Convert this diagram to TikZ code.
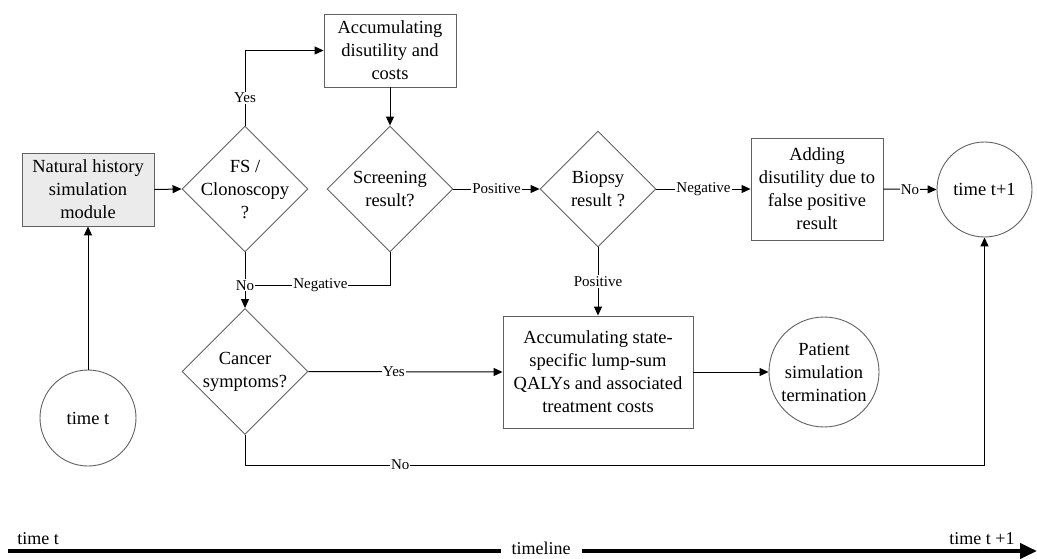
\documentclass[tikz,border=0pt]{standalone}
\usepackage{fontspec}
\setmainfont{Liberation Serif}
\usetikzlibrary{shapes.geometric,arrows.meta}

\tikzset{
  base/.style={draw=black!62, line width=0.9pt, inner sep=0pt, align=center,
    font=\fontsize{18.5}{23}\selectfont},
  procbox/.style={base, rectangle},
  decision/.style={base, diamond, aspect=1},
  roundstate/.style={base, circle},
  centertext/.style={label={[align=center, font=\fontsize{18.5}{23}\selectfont]center:#1}},
  conn/.style={draw=black, line width=1pt},
  arr/.style={conn, -{Triangle[length=9pt,width=8pt]}},
  lbl/.style={fill=white, inner sep=1pt, font=\fontsize{15}{18}\selectfont},
  timelbl/.style={font=\fontsize{18}{22}\selectfont, inner sep=0pt},
}

\begin{document}
\begin{tikzpicture}[x=1pt, y=-1pt]
\useasboundingbox (0,0) rectangle (1037,558);

% process boxes
\node[procbox, fill=black!8, minimum width=132pt, minimum height=73pt] (nh) at (88,189.5)
  {Natural history\\simulation\\module};
\node[procbox, minimum width=132pt, minimum height=73pt] (acc) at (390,50.5)
  {Accumulating\\disutility and\\costs};
\node[procbox, minimum width=132pt, minimum height=102pt] (add) at (817,189)
  {Adding\\disutility due to\\false positive\\result};
\node[procbox, minimum width=190pt, minimum height=112pt] (big) at (598,372)
  {Accumulating state-\\specific lump-sum\\QALYs and associated\\treatment costs};

% decisions
\node[decision, minimum width=126pt, minimum height=126pt,
  centertext={FS /\\Clonoscopy\\?}] (fs) at (245,189) {};
\node[decision, minimum width=126pt, minimum height=126pt,
  centertext={Screening\\result?}] (scr) at (390,189) {};
\node[decision, minimum width=116pt, minimum height=116pt,
  centertext={Biopsy\\result ?}] (bio) at (598,189) {};
\node[decision, minimum width=126pt, minimum height=126pt,
  centertext={Cancer\\symptoms?}] (cs) at (245,371.5) {};

% states
\node[roundstate, minimum size=96pt] (tt) at (88,418) {time t};
\node[roundstate, minimum size=95pt] (t1) at (984.5,189.5) {time t+1};
\node[roundstate, minimum size=110pt,
  centertext={Patient\\simulation\\termination}] (pat) at (824,372) {};

% helper points
\coordinate (negjoin) at (245,285);
\coordinate (nobend) at (984.5,465);

% connectors
\draw[arr] (tt.north) -- (nh.south);
\draw[arr] (nh.east) -- (fs.west);
\draw[arr] (fs.north) -- node[lbl, pos=0.37] {Yes} (fs.north |- acc.west) -- (acc.west);
\draw[arr] (acc.south) -- (scr.north);
\draw[arr] (scr.east) -- node[lbl] {Positive} (bio.west);
\draw[arr] (bio.east) -- node[lbl] {Negative} (add.west);
\draw[arr] (add.east) -- node[lbl] {No} (t1.west);
\draw[conn] (scr.south) |- node[lbl, pos=0.74] {Negative} (negjoin);
\draw[arr] (fs.south) -- node[lbl, pos=0.59] {No} (cs.north);
\draw[arr] (cs.east) -- node[lbl, pos=0.44] {Yes} (big.west);
\draw[arr] (bio.south) -- node[lbl] {Positive} (big.north);
\draw[arr] (big.east) -- (pat.west);
\draw[arr] (cs.south) |- node[lbl, pos=0.605] {No} (nobend) -- (t1.south);

% timeline
\coordinate (tl0) at (8,551);
\coordinate (tl1) at (1037,551);
\draw[line width=4pt, -{Triangle[length=17pt,width=15pt]}]
  (tl0) -- node[timelbl, fill=white, inner xsep=11pt, inner ysep=1pt, yshift=2.5pt, pos=0.518] (tlname) {timeline} (tl1);
\node[timelbl, anchor=base] (tlstart) at (38,544) {time t};
\node[timelbl, anchor=base] (tlend) at (982,544) {time t +1};
\end{tikzpicture}
\end{document}
